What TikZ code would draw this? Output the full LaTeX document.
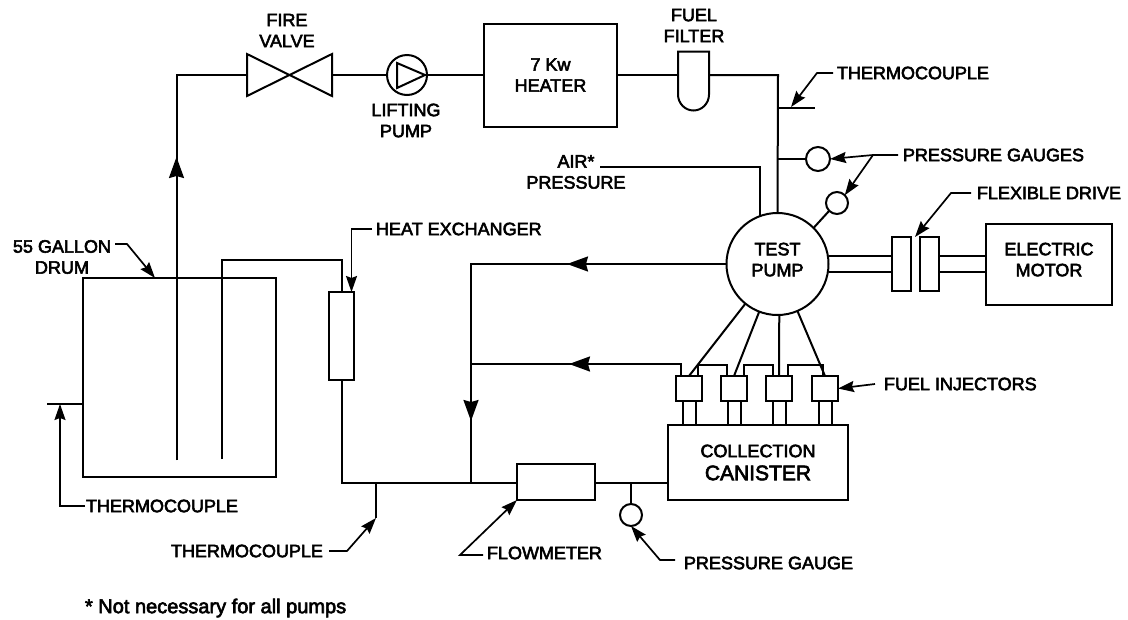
\documentclass[tikz,border=0pt]{standalone}
\usepackage{fontspec}
\setmainfont{Liberation Sans}[FakeBold=3]
\usetikzlibrary{arrows.meta}
\tikzset{
    pipe/.style={line width=2pt, line join=miter},
    boxnode/.style={draw, line width=2pt, inner sep=0pt, outer sep=0pt, align=center},
    gaugenode/.style={circle, draw, line width=2pt, inner sep=0pt, outer sep=0pt},
    plainshape/.style={inner sep=0pt, outer sep=0pt},
    caption/.style={inner sep=0pt, outer sep=0pt, align=center},
    flow/.style={pipe, -{Stealth[length=21pt, width=15pt, inset=2pt]}},
    leader/.style={line width=1.7pt, -{Stealth[length=16pt, width=11pt, inset=2pt]}}
}
\begin{document}
\begin{tikzpicture}[x=1pt, y=-1pt, font=\fontsize{18}{21}\selectfont]
    \useasboundingbox (0,0) rectangle (1128,619);

    \node[boxnode, minimum width=193pt, minimum height=199pt] (drum) at (179.5,377.5) {};
    \node[boxnode, minimum width=25pt, minimum height=88pt] (exchanger) at (341,336) {};
    \node[plainshape, minimum width=85pt, minimum height=42pt] (valve) at (289.5,75) {};
    \node[gaugenode, minimum size=40pt] (lift) at (407,75) {};
    \node[boxnode, minimum width=133pt, minimum height=103pt] (heater) at (550.5,75) {7 Kw\\HEATER};
    \node[plainshape, minimum width=31pt, minimum height=59pt] (filter) at (693.5,81) {};
    \node[boxnode, circle, minimum size=102pt, text depth=9pt] (pump) at (777.5,264) {TEST\\PUMP};
    \node[gaugenode, minimum size=24pt] (gaugeA) at (818,159) {};
    \node[gaugenode, minimum size=22pt] (gaugeB) at (837,203) {};
    \node[boxnode, minimum width=19pt, minimum height=54pt] (driveA) at (901.5,264) {};
    \node[boxnode, minimum width=19pt, minimum height=54pt] (driveB) at (929.5,264) {};
    \node[boxnode, minimum width=126pt, minimum height=81pt, text depth=9pt] (motor) at (1049,264) {ELECTRIC\\MOTOR};
    \node[boxnode, minimum width=26pt, minimum height=25pt] (injA) at (689,388.5) {};
    \node[boxnode, minimum width=26pt, minimum height=25pt] (injB) at (734,388.5) {};
    \node[boxnode, minimum width=26pt, minimum height=25pt] (injC) at (779,388.5) {};
    \node[boxnode, minimum width=26pt, minimum height=25pt] (injD) at (825,388.5) {};
    \node[boxnode, minimum width=180pt, minimum height=75pt] (canister) at (758,462.5) {COLLECTION\\[2pt]{\fontsize{21}{23}\selectfont CANISTER}};
    \node[boxnode, minimum width=78pt, minimum height=36pt] (flowmeter) at (556,482) {};
    \node[gaugenode, minimum size=22pt] (gaugeC) at (631,515) {};

    \node[caption] (valveText) at (287,30.5) {FIRE\\VALVE};
    \node[caption] (liftText) at (406,120.5) {LIFTING\\PUMP};
    \node[caption] (filterText) at (694,25.5) {FUEL\\FILTER};
    \node[caption, anchor=west] (tcTopText) at (837,73) {THERMOCOUPLE};
    \node[caption, anchor=west] (gaugesText) at (903,155) {PRESSURE GAUGES};
    \node[caption] (airText) at (576,172) {AIR*\\PRESSURE};
    \node[caption, anchor=west] (driveText) at (977,193) {FLEXIBLE DRIVE};
    \node[caption] (drumText) at (62,257) {55 GALLON\\DRUM};
    \node[caption, anchor=west] (exchangerText) at (376,229) {HEAT EXCHANGER};
    \node[caption, anchor=west] (injText) at (884,384) {FUEL INJECTORS};
    \node[caption, anchor=west] (tcDrumText) at (86,506) {THERMOCOUPLE};
    \node[caption, anchor=east] (tcLineText) at (323,551) {THERMOCOUPLE};
    \node[caption, anchor=west] (flowText) at (487,553) {FLOWMETER};
    \node[caption, anchor=west] (gaugeCText) at (684,563) {PRESSURE GAUGE};
    \node[caption, anchor=west, font=\fontsize{20}{22}\selectfont] (noteText) at (85,608) {* Not necessary for all pumps};

    \coordinate (suctionEnd) at (176.5,460);
    \coordinate (suctionCorner) at (176.5,75);
    \coordinate (suctionArrow) at (176.5,157);
    \coordinate (returnEnd) at (222,459);
    \coordinate (returnCorner) at (222,260);
    \coordinate (exchangerTop) at (341.5,260);
    \coordinate (lineCorner) at (341.5,483);
    \coordinate (drainTop) at (471,264);
    \coordinate (drainFoot) at (471,483);
    \coordinate (drainMid) at (471,364);
    \coordinate (drainArrow) at (471,421);
    \coordinate (topArrow) at (567,264);
    \coordinate (midArrow) at (569,364);
    \coordinate (feedCorner) at (778,75);
    \coordinate (stubTop) at (778,108);
    \coordinate (stubEnd) at (815,108);
    \coordinate (stubGauge) at (778,159);
    \coordinate (tcDrumEnd) at (47,404);
    \coordinate (tcDrumTip) at (60,404);
    \coordinate (tcLineTop) at (376,483);
    \coordinate (tcLineTip) at (376,518);
    \coordinate (gaugeCTop) at (631,483);
    \coordinate (airStart) at (600,167);
    \coordinate (airCorner) at (760,167);
    \coordinate (gaugesFork) at (873,155);
    \coordinate (stubTip) at (791,107);
    \coordinate (driveTip) at (915,237);
    \coordinate (drumStart) at (115,244);
    \coordinate (drumTip) at (155,278);
    \coordinate (exchangerTip) at (351.5,292);
    \coordinate (flowStart) at (483,555);
    \coordinate (gaugeCStart) at (675,560);

    \draw[pipe] (suctionEnd) -- (suctionCorner) -- (valve.west);
    \draw[flow] (suctionEnd) -- (suctionArrow);
    \draw[pipe] (valve.north west) -- (valve.south east) -- (valve.north east) -- (valve.south west) -- cycle;
    \draw[pipe] (valve.east) -- (lift.west);
    \draw[pipe] ([shift={(-10,-12)}]lift.center) -- ([shift={(18,0)}]lift.center) -- ([shift={(-10,13)}]lift.center) -- cycle;
    \draw[pipe] (lift.east) -- (heater.west);
    \draw[pipe] (filter.north west) -- (filter.north east) -- ([yshift=-13.5pt]filter.east) arc[start angle=0, end angle=180, x radius=15.5, y radius=16] -- cycle;
    \draw[pipe] (heater.east) -- (heater.east -| filter.west);
    \draw[pipe] (filter.east |- feedCorner) -- (feedCorner) -- (pump.north);
    \draw[pipe] (stubTop) -- (stubEnd);
    \draw[pipe] (stubGauge) -- (gaugeA.west);
    \draw[pipe] (gaugeB.225) -- (pump.45);
    \draw[pipe] (airStart) -- (airCorner) -- (airCorner |- pump.110);

    \draw[pipe] ([yshift=-8pt]pump.east) -- ([yshift=-8pt]driveA.west);
    \draw[pipe] ([yshift=8pt]pump.east) -- ([yshift=8pt]driveA.west);
    \draw[pipe] ([yshift=-8pt]driveB.east) -- ([yshift=-8pt]driveB.east -| motor.west);
    \draw[pipe] ([yshift=8pt]driveB.east) -- ([yshift=8pt]driveB.east -| motor.west);

    \draw[pipe] (pump.231) -- (injA.north);
    \draw[pipe] (pump.249) -- (injB.north);
    \draw[pipe] (pump.272) -- (injC.north);
    \draw[pipe] (pump.293) -- (injD.north);

    \draw[pipe] ([xshift=9pt]injA.north) -- ++(0,-11) -| ([xshift=-7pt]injB.north);
    \draw[pipe] ([xshift=10pt]injB.north) -- ++(0,-11) -| ([xshift=-6pt]injC.north);
    \draw[pipe] ([xshift=9pt]injC.north) -- ++(0,-11) -| ([xshift=-2pt]injD.north);

    \draw[pipe] ([xshift=-6.5pt]injA.south) -- ([xshift=-6.5pt]injA.south |- canister.north);
    \draw[pipe] ([xshift=6.5pt]injA.south) -- ([xshift=6.5pt]injA.south |- canister.north);
    \draw[pipe] ([xshift=-6.5pt]injB.south) -- ([xshift=-6.5pt]injB.south |- canister.north);
    \draw[pipe] ([xshift=6.5pt]injB.south) -- ([xshift=6.5pt]injB.south |- canister.north);
    \draw[pipe] ([xshift=-6.5pt]injC.south) -- ([xshift=-6.5pt]injC.south |- canister.north);
    \draw[pipe] ([xshift=6.5pt]injC.south) -- ([xshift=6.5pt]injC.south |- canister.north);
    \draw[pipe] ([xshift=-6.5pt]injD.south) -- ([xshift=-6.5pt]injD.south |- canister.north);
    \draw[pipe] ([xshift=6.5pt]injD.south) -- ([xshift=6.5pt]injD.south |- canister.north);

    \draw[pipe] (returnEnd) -- (returnCorner) -- (exchangerTop) -- (exchangerTop |- exchanger.north);
    \draw[pipe] (exchangerTop |- exchanger.south) -- (lineCorner) -- (flowmeter.west |- lineCorner);
    \draw[pipe] (flowmeter.east |- lineCorner) -- (canister.west |- lineCorner);
    \draw[pipe] (pump.west) -- (drainTop) -- (drainFoot);
    \draw[pipe] ([xshift=-8pt]injA.north) |- (drainMid);
    \draw[flow] (drainMid) -- (drainArrow);
    \draw[flow] (pump.west) -- (topArrow);
    \draw[flow] ([xshift=-8pt]injA.north |- drainMid) -- (midArrow);

    \draw[pipe] (tcDrumEnd) -- (drum.west |- tcDrumEnd);
    \draw[pipe] (tcLineTop) -- (tcLineTip);
    \draw[pipe] (gaugeCTop) -- (gaugeC.north);

    \draw[leader] ([xshift=-4pt]tcTopText.west) -- ++(-16,0) -- (stubTip);
    \draw[leader] ([xshift=-5pt]gaugesText.west) -- (gaugesFork) -- (gaugeA.east);
    \draw[leader] (gaugesFork) -- (gaugeB.north east);
    \draw[leader] ([xshift=-6pt]driveText.west) -- ++(-20,0) -- (driveTip);
    \draw[leader] (drumStart) -- ++(12,0) -- (drumTip);
    \draw[leader] ([xshift=-4pt]exchangerText.west) -| (exchangerTip);
    \draw[leader] ([xshift=-9pt]injText.west) -- (injD.east);
    \draw[leader] ([xshift=-1pt]tcDrumText.west) -| (tcDrumTip);
    \draw[leader] ([xshift=6pt]tcLineText.east) -- ++(18,0) -- (tcLineTip);
    \draw[leader] (flowStart) -- ++(-23,0) -- (flowmeter.south west);
    \draw[leader] (gaugeCStart) -- ++(-15,0) -- (gaugeC.south);
\end{tikzpicture}
\end{document}
